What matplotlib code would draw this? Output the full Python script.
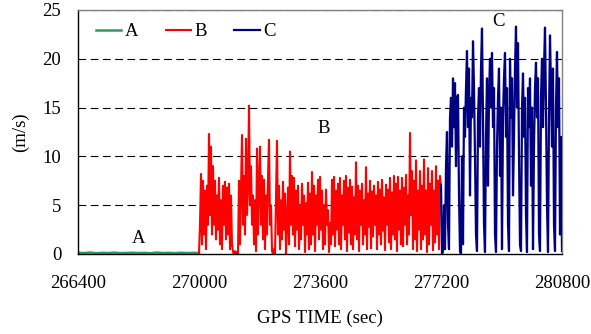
import numpy as np
import matplotlib
matplotlib.use("Agg")
import matplotlib.pyplot as plt

# ---- data ----
a_start, a_end = 266400, 270000
a_values = [0.12, 0.1, 0.15, 0.08, 0.12, 0.1, 0.14, 0.09, 0.11, 0.13,
            0.1, 0.12, 0.08, 0.15, 0.1, 0.12, 0.09, 0.13, 0.1, 0.12, 0.11]

b_start, b_end = 270000, 277200
b_values = [
    0, 3, 8.2, 1, 7.5, 2, 6.5, 0.5, 7, 3,
    12.3, 4, 11, 2, 9, 3, 7.5, 1.5, 6, 2.5,
    7.8, 1, 5.5, 0.5, 7, 3, 7.4, 1.5, 6.8, 2,
    7.2, 0.5, 6, 1, 0.2, 0, 0.3, 0, 0.2, 0,
    7.5, 1, 6.5, 12.2, 3, 8, 2, 11.8, 4, 7,
    15.2, 5, 9, 3, 6, 1, 5.5, 0.3, 10.8, 2,
    7, 11, 3, 8, 1.5, 7.6, 0.5, 6, 2, 7.8,
    11.7, 3, 5, 0.3, 0, 0.5, 0, 6, 11.6, 2,
    7, 0.5, 5.5, 1.5, 7.4, 2.5, 6.2, 0, 3, 6.8,
    1, 10.5, 3, 8, 2, 7.8, 0.8, 6.5, 2.5, 7,
    0.5, 5, 1.5, 7.2, 3, 6, 0.2, 5.2, 2, 7.3,
    0.5, 6.2, 1, 8.4, 2, 7, 0.3, 6, 3, 7.6,
    1.5, 7.9, 2.5, 6.5, 0.5, 5, 1, 6.6, 3, 4.5,
    0.2, 3.2, 1, 7.6, 2, 7.9, 0.8, 6.5, 2.5, 7.2,
    1, 7.8, 0.5, 6, 3, 7.5, 1.5, 8, 0.3, 6.8,
    2.2, 7.6, 1, 6.9, 0.5, 5.8, 2, 9.4, 1.5, 7,
    0.3, 6.5, 3, 7.2, 1, 5.5, 2, 8.9, 0.5, 6.2,
    2.8, 7.5, 0.6, 6.4, 1.8, 7, 3, 6, 0.5, 7.4,
    2, 6.6, 1, 7.6, 2.4, 5.8, 0.4, 7.1, 3, 6.6,
    1.2, 7.8, 0.5, 6.3, 2, 8, 1.5, 7.2, 0.3, 7.9,
    2.5, 6.5, 1, 7.8, 0.8, 6.8, 3, 8.1, 1, 6,
    2, 12.4, 4, 8.5, 0.5, 7.5, 1.5, 9.6, 0.3, 6.5,
    2.5, 8.5, 0.5, 7, 1.5, 9.7, 2, 6.5, 0.2, 8.8,
    1, 7.2, 3, 8.5, 0.4, 6.5, 1.2, 9, 2, 7.5,
    0.5, 8, 6.8,
]

c_start, c_end = 277200, 280800
c_values = [
    7.1, 0, 0.3, 5, 0.5, 9, 12.5, 3, 0.5, 14,
    16, 11, 18, 13, 17.5, 9, 16, 16.3, 6, 0.3,
    0, 10, 1, 15, 12, 17, 20.8, 13, 19, 6,
    16, 14, 21.8, 17, 10, 2, 0.3, 14, 17, 11,
    19, 23.1, 14, 3, 0.2, 12, 18, 7, 16, 20,
    15, 20.6, 13, 17, 2, 0.2, 11, 16, 19, 8,
    15, 0.5, 14, 18, 20.6, 12, 17, 3, 0.3, 20,
    14, 18, 6, 12, 19, 23.3, 15, 21.6, 10, 1,
    0.3, 15, 18.5, 12, 16, 4, 0.2, 17, 13, 18,
    7, 15, 0.5, 11, 17, 19.6, 14, 18, 2, 0.3,
    16, 20, 13, 19, 23.2, 15, 5, 0.2, 14, 22.4,
    17, 11, 19, 3, 0.3, 15, 20.7, 13, 18, 2,
    12, 0.3,
]

series_names = ["A", "B", "C"]
series_colors = ["#2e9a62", "#ff0000", "#000080"]
x_ticks = [266400, 270000, 273600, 277200, 280800]
y_ticks = [0, 5, 10, 15, 20, 25]
x_label = "GPS TIME (sec)"
y_label = "(m/s)"
annotations = [("A", 268215, 1.6), ("B", 273720, 12.9), ("C", 278925, 23.8)]

# ---- plotting ----
plt.rcParams["font.family"] = ["Liberation Serif", "DejaVu Serif"]
fig = plt.figure(figsize=(5.91, 3.34), dpi=100)
ax = fig.add_axes([78 / 591, 80 / 334, (562 - 78) / 591, (254 - 10) / 334])

xa = np.linspace(a_start, a_end, len(a_values))
xb = np.linspace(b_start, b_end, len(b_values))
xc = np.linspace(c_start, c_end, len(c_values))

for y in y_ticks[1:]:
    ax.axhline(y, color="black", lw=0.8, ls=(0, (7, 4)), zorder=0.5)

ax.plot(xa, a_values, color=series_colors[0], lw=1.8, label=series_names[0], zorder=2)
ax.plot(xb, b_values, color=series_colors[1], lw=1.5, label=series_names[1], zorder=2)
ax.plot(xc, c_values, color=series_colors[2], lw=1.6, label=series_names[2], zorder=3)

ax.set_xlim(x_ticks[0], x_ticks[-1])
ax.set_ylim(y_ticks[0], y_ticks[-1])
ax.set_xticks(x_ticks)
ax.set_yticks(y_ticks)
ax.tick_params(axis="both", length=0, labelsize=13.5)
ax.tick_params(axis="x", pad=15)
ax.tick_params(axis="y", pad=12)

ax.spines["left"].set_color("black")
ax.spines["bottom"].set_color("black")
ax.spines["top"].set_color("#808080")
ax.spines["right"].set_color("#808080")
for s in ax.spines.values():
    s.set_linewidth(1.0)

ax.set_xlabel(x_label, fontsize=13.5, labelpad=13)
ax.set_ylabel(y_label, fontsize=13.5, labelpad=10)

for txt, x, y in annotations:
    ax.text(x, y, txt, fontsize=13.5, ha="center", va="center")

leg = ax.legend(loc="upper left", ncol=3, frameon=False, fontsize=13.5,
                handlelength=1.35, handletextpad=0.2, columnspacing=1.45,
                bbox_to_anchor=(0.01, 1.0), borderaxespad=0.3)

fig.savefig("out.png", dpi=100)
